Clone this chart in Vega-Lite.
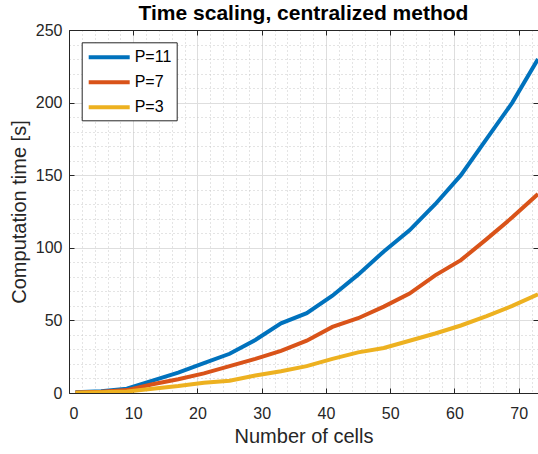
{
  "$schema": "https://vega.github.io/schema/vega-lite/v6.json",
  "width": 469,
  "height": 363,
  "autosize": {"type": "none"},
  "padding": {"left": 69, "top": 30, "right": 0, "bottom": 61},
  "background": "white",
  "config": {
    "font": "Liberation Sans",
    "view": {"stroke": null},
    "axis": {
      "labelFont": "Liberation Sans",
      "titleFont": "Liberation Sans",
      "labelColor": "#262626",
      "titleColor": "#262626",
      "domainColor": "#262626",
      "tickColor": "#262626",
      "gridColor": "#dedede",
      "gridOpacity": 1,
      "labelFontSize": 16,
      "titleFontSize": 20,
      "titleFontWeight": "normal"
    }
  },
  "title": {
    "text": "Time scaling, centralized method",
    "fontSize": 21,
    "fontWeight": "bold",
    "color": "#000000",
    "font": "Liberation Sans",
    "frame": "group",
    "anchor": "middle",
    "baseline": "alphabetic",
    "offset": 9,
    "dy": 28
  },
  "datasets": {
    "t": [
      {"cells": 1, "P": "P=11", "time": 0.5},
      {"cells": 5, "P": "P=11", "time": 1.2},
      {"cells": 9, "P": "P=11", "time": 3},
      {"cells": 13, "P": "P=11", "time": 8.5},
      {"cells": 17, "P": "P=11", "time": 14},
      {"cells": 21, "P": "P=11", "time": 20.5},
      {"cells": 25, "P": "P=11", "time": 27},
      {"cells": 29, "P": "P=11", "time": 36.5},
      {"cells": 33, "P": "P=11", "time": 48},
      {"cells": 37, "P": "P=11", "time": 55},
      {"cells": 41, "P": "P=11", "time": 67},
      {"cells": 45, "P": "P=11", "time": 81.5},
      {"cells": 49, "P": "P=11", "time": 97.5},
      {"cells": 53, "P": "P=11", "time": 112},
      {"cells": 57, "P": "P=11", "time": 130},
      {"cells": 61, "P": "P=11", "time": 150},
      {"cells": 65, "P": "P=11", "time": 175},
      {"cells": 69, "P": "P=11", "time": 200},
      {"cells": 73, "P": "P=11", "time": 230},
      {"cells": 1, "P": "P=7", "time": 0.3},
      {"cells": 5, "P": "P=7", "time": 0.8},
      {"cells": 9, "P": "P=7", "time": 2},
      {"cells": 13, "P": "P=7", "time": 6},
      {"cells": 17, "P": "P=7", "time": 9.5},
      {"cells": 21, "P": "P=7", "time": 13.5},
      {"cells": 25, "P": "P=7", "time": 18.5},
      {"cells": 29, "P": "P=7", "time": 23.5},
      {"cells": 33, "P": "P=7", "time": 29},
      {"cells": 37, "P": "P=7", "time": 36},
      {"cells": 41, "P": "P=7", "time": 45.5},
      {"cells": 45, "P": "P=7", "time": 51.5},
      {"cells": 49, "P": "P=7", "time": 59.5},
      {"cells": 53, "P": "P=7", "time": 68.5},
      {"cells": 57, "P": "P=7", "time": 81},
      {"cells": 61, "P": "P=7", "time": 91.5},
      {"cells": 65, "P": "P=7", "time": 106},
      {"cells": 69, "P": "P=7", "time": 121},
      {"cells": 73, "P": "P=7", "time": 137},
      {"cells": 1, "P": "P=3", "time": 0.2},
      {"cells": 5, "P": "P=3", "time": 0.5},
      {"cells": 9, "P": "P=3", "time": 1},
      {"cells": 13, "P": "P=3", "time": 3},
      {"cells": 17, "P": "P=3", "time": 4.8},
      {"cells": 21, "P": "P=3", "time": 7},
      {"cells": 25, "P": "P=3", "time": 8.5},
      {"cells": 29, "P": "P=3", "time": 12},
      {"cells": 33, "P": "P=3", "time": 15},
      {"cells": 37, "P": "P=3", "time": 18.5},
      {"cells": 41, "P": "P=3", "time": 23.5},
      {"cells": 45, "P": "P=3", "time": 28},
      {"cells": 49, "P": "P=3", "time": 31},
      {"cells": 53, "P": "P=3", "time": 36},
      {"cells": 57, "P": "P=3", "time": 41},
      {"cells": 61, "P": "P=3", "time": 46.5},
      {"cells": 65, "P": "P=3", "time": 53},
      {"cells": 69, "P": "P=3", "time": 60},
      {"cells": 73, "P": "P=3", "time": 68}
    ]
  },
  "data": {"name": "t"},
  "layer": [
    {
      "mark": {"type": "line", "opacity": 0},
      "encoding": {
        "x": {
          "field": "cells", "type": "quantitative",
          "scale": {"domain": [0, 73], "nice": false, "zero": false},
          "axis": {
            "orient": "bottom", "title": null, "labels": false, "ticks": false, "domain": false,
            "grid": true, "gridDash": [1, 3], "gridColor": "#c9c9c9",
            "values": [2, 4, 6, 8, 12, 14, 16, 18, 22, 24, 26, 28, 32, 34, 36, 38, 42, 44, 46, 48, 52, 54, 56, 58, 62, 64, 66, 68, 72]
          }
        },
        "y": {
          "field": "time", "type": "quantitative",
          "scale": {"domain": [0, 250], "nice": false},
          "axis": {
            "orient": "left", "title": null, "labels": false, "ticks": false, "domain": false,
            "grid": true, "gridDash": [1, 3], "gridColor": "#c9c9c9",
            "values": [10, 20, 30, 40, 60, 70, 80, 90, 110, 120, 130, 140, 160, 170, 180, 190, 210, 220, 230, 240]
          }
        }
      }
    },
    {
      "mark": {"type": "line", "opacity": 0},
      "encoding": {
        "x": {
          "field": "cells", "type": "quantitative",
          "axis": {
            "orient": "top", "title": null, "labels": false, "grid": false,
            "tickSize": -5, "domain": true,
            "values": [0, 10, 20, 30, 40, 50, 60, 70]
          }
        },
        "y": {
          "field": "time", "type": "quantitative",
          "axis": {
            "orient": "right", "title": null, "labels": false, "grid": false,
            "tickSize": -5, "domain": true,
            "values": [0, 50, 100, 150, 200, 250]
          }
        }
      }
    },
    {
      "mark": {"type": "line", "strokeWidth": 4, "clip": true},
      "encoding": {
        "x": {
          "field": "cells", "type": "quantitative",
          "axis": {
            "orient": "bottom", "title": "Number of cells",
            "values": [0, 10, 20, 30, 40, 50, 60, 70],
            "grid": true, "tickSize": -5, "labelPadding": 17, "titlePadding": 5
          }
        },
        "y": {
          "field": "time", "type": "quantitative",
          "axis": {
            "orient": "left", "title": "Computation time [s]",
            "values": [0, 50, 100, 150, 200, 250],
            "grid": true, "tickSize": -5, "labelPadding": 12, "titlePadding": 6
          }
        },
        "color": {
          "field": "P", "type": "nominal",
          "scale": {"domain": ["P=11", "P=7", "P=3"], "range": ["#0072BD", "#D95319", "#EDB120"]},
          "legend": {
            "orient": "none", "legendX": 12.7, "legendY": 12.3,
            "title": null, "symbolType": "M-1,0H4.125", "symbolSize": 256,
            "symbolStrokeWidth": 4, "labelFontSize": 16, "labelColor": "#000000",
            "labelFont": "Liberation Sans", "rowPadding": 7,
            "strokeColor": "#262626", "fillColor": "white", "padding": 5, "labelOffset": 28
          }
        }
      }
    }
  ],
  "resolve": {"axis": {"x": "independent", "y": "independent"}}
}
